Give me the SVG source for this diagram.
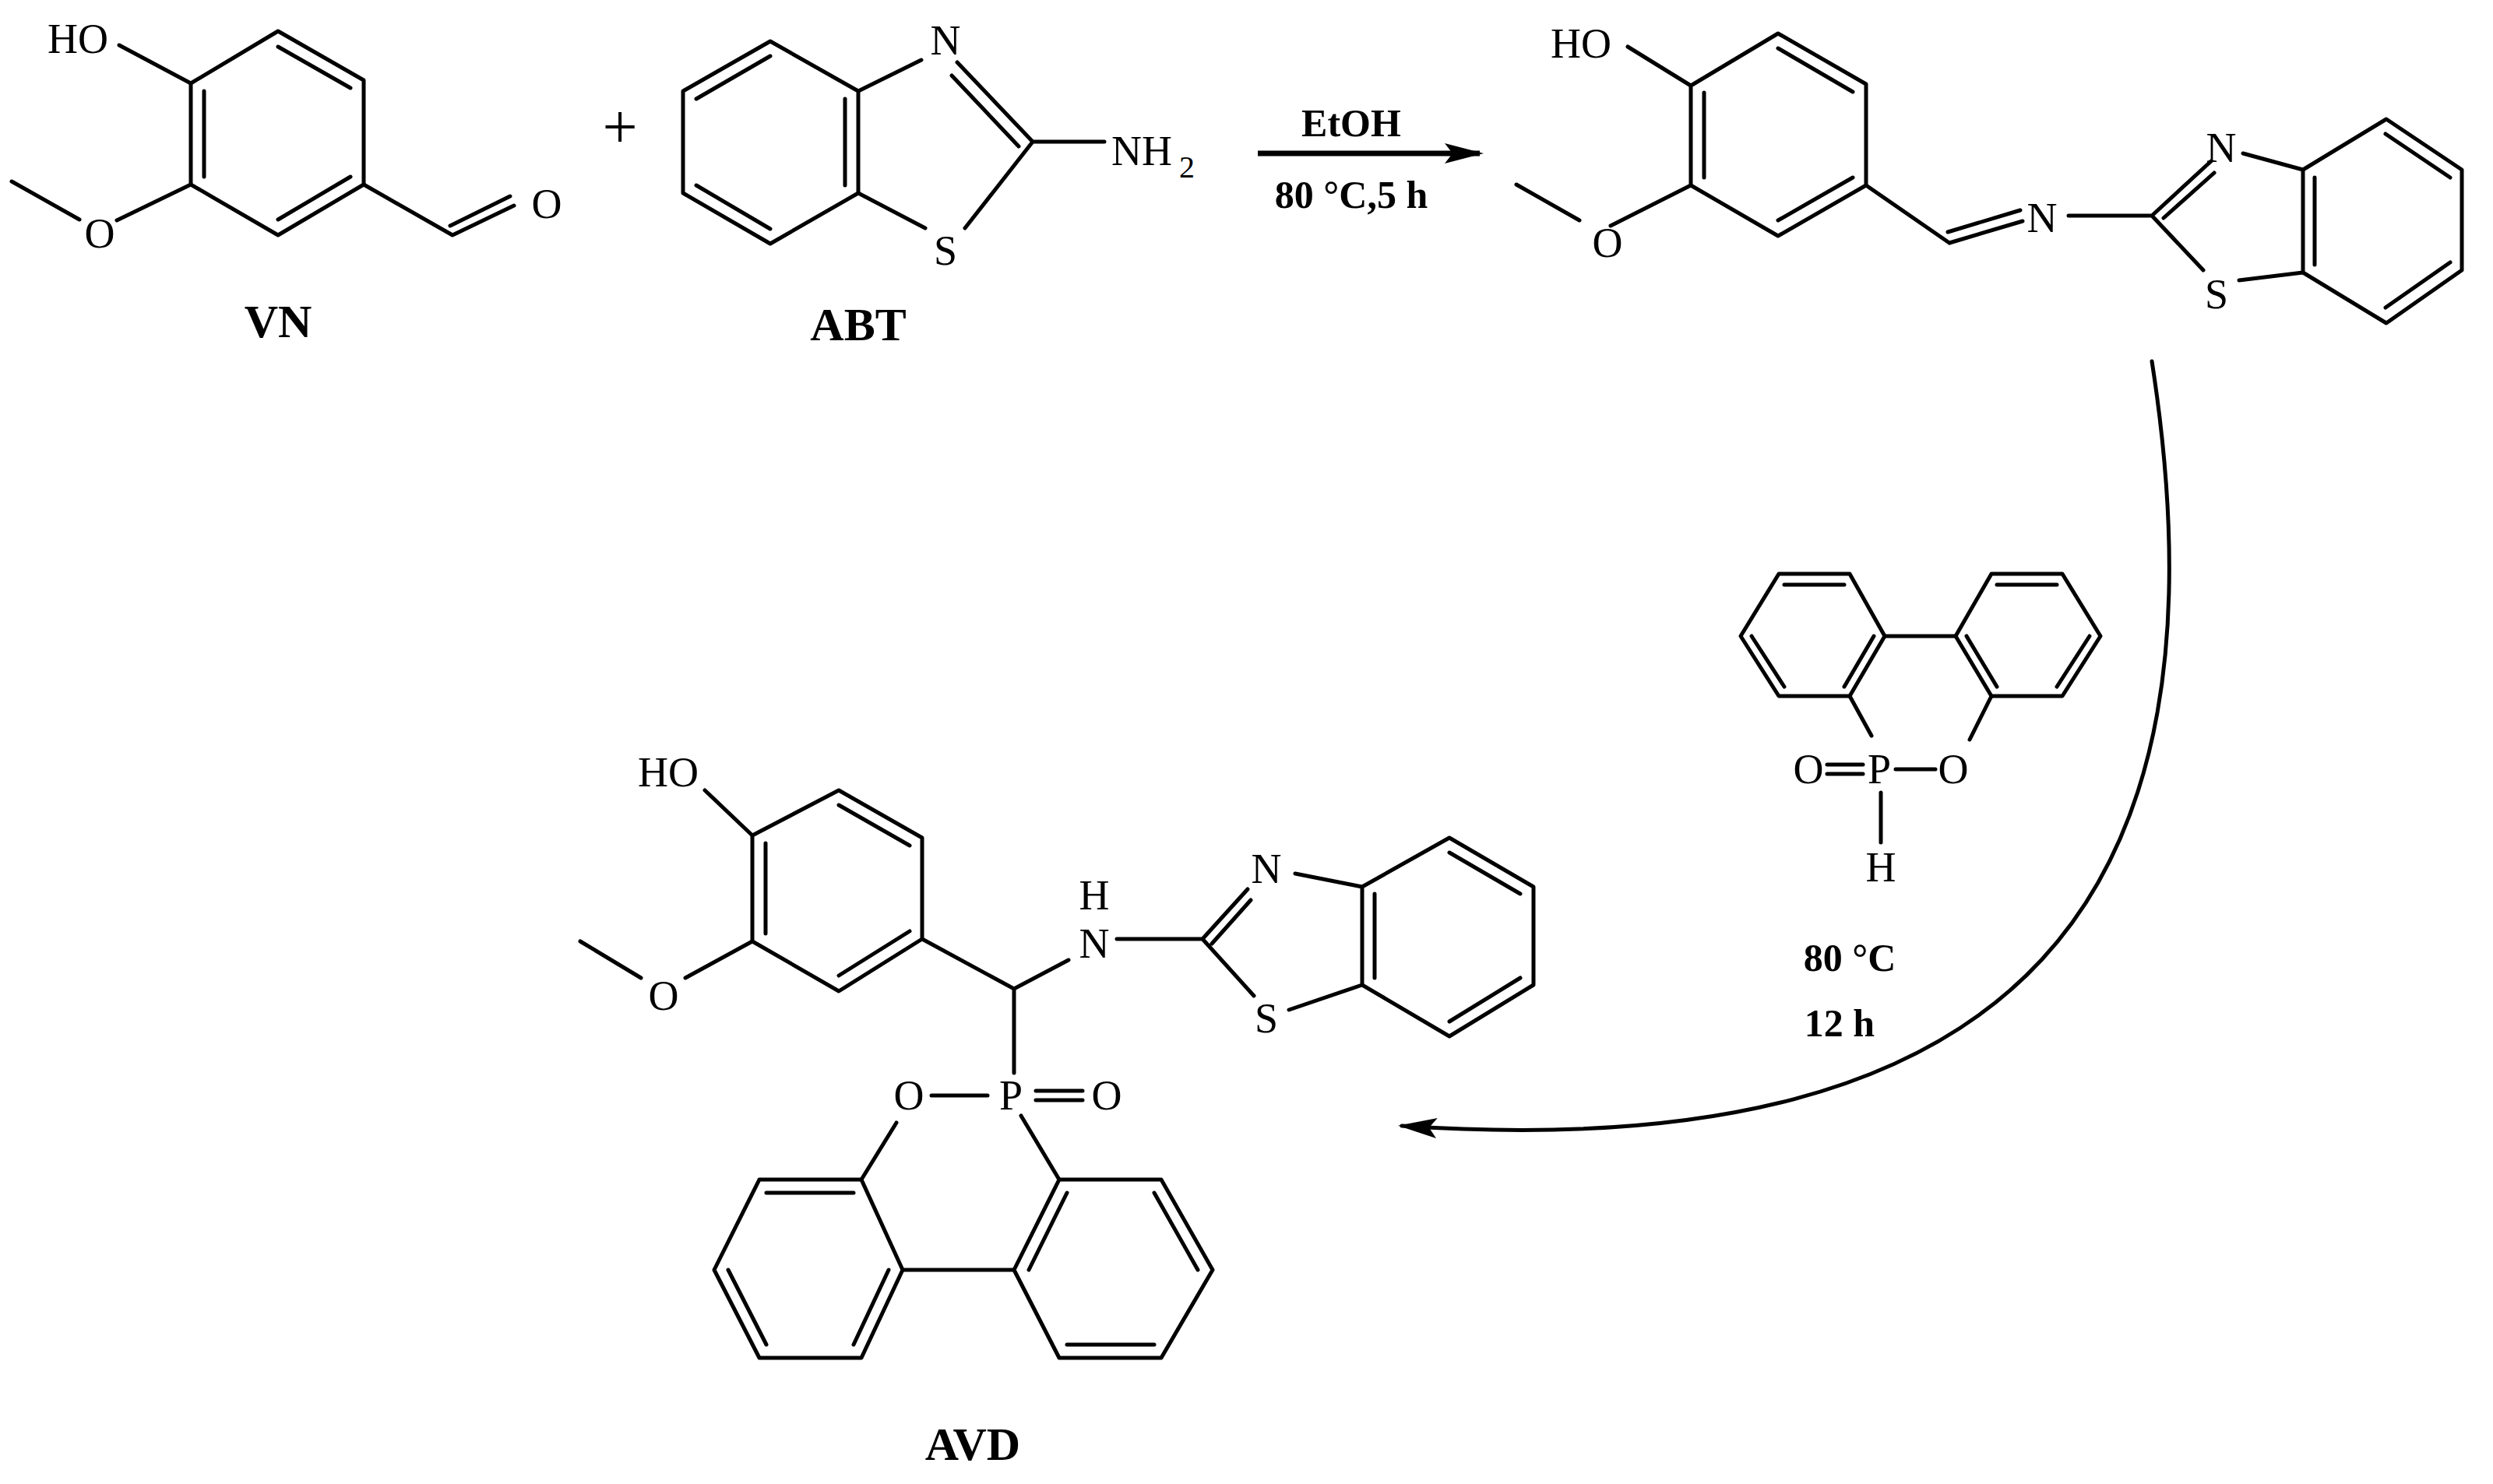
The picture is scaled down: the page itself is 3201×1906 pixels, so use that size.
<svg xmlns="http://www.w3.org/2000/svg" width="3201" height="1906" viewBox="0 0 3201 1906">
<style>
.b{stroke:#000;stroke-width:5;fill:none;stroke-linecap:round;stroke-linejoin:round}
.t{font-family:"Liberation Serif",serif;font-size:54px;text-anchor:middle;dominant-baseline:central;fill:#000}
.l{font-family:"Liberation Serif",serif;font-size:60px;font-weight:bold;text-anchor:middle;dominant-baseline:central;fill:#000}
.c{font-family:"Liberation Serif",serif;font-size:50px;font-weight:bold;text-anchor:middle;dominant-baseline:central;fill:#000}
</style>
<defs>
<marker id="ah2" markerWidth="50" markerHeight="30" refX="45" refY="15" orient="auto" markerUnits="userSpaceOnUse" viewBox="0 0 50 30">
<path d="M0,2 L50,15 L0,28 L10,15 Z" fill="#000"/>
</marker>
</defs>
<rect width="3201" height="1906" fill="#fff"/>

<g id="VN">
<path class="b" d="M357,40 L467,103 L467,237 L357,302 L245,237 L245,107 Z"/>
<path class="b" d="M262,117 L262,227 M357,60 L450,113 M450,227 L357,282"/>
<path class="b" d="M153,58 L245,107 M245,237 L150,283 M102,282 L15,233 M467,237 L581,302 M581,302 L660,264 M578,290 L655,252"/>
<text class="t" x="100" y="50">HO</text>
<text class="t" x="128" y="300">O</text>
<text class="t" x="702" y="262">O</text>
<text class="l" x="357" y="413">VN</text>
</g>

<g id="plus"><text class="t" x="796" y="163" style="font-size:80px">+</text></g>

<g id="ABT">
<path class="b" d="M989,53 L1102,117 L1102,248 L989,313 L877,248 L877,117 Z"/>
<path class="b" d="M894,127 L989,72 M894,238 L989,294 M1085,127 L1085,238"/>
<path class="b" d="M1102,117 L1183,77 M1229,80 L1326,182 M1222,97 L1308,188 M1326,182 L1418,182 M1326,182 L1239,293 M1102,248 L1188,293"/>
<text class="t" x="1214" y="52">N</text>
<text class="t" x="1214" y="322">S</text>
<text class="t" x="1466" y="194">NH</text>
<text class="t" x="1524" y="214" style="font-size:40px">2</text>
<text class="l" x="1102" y="417">ABT</text>
</g>

<g id="connectors">
<path d="M1615,197 L1900,197" stroke="#000" stroke-width="7" marker-end="url(#ah2)" fill="none"/>
<path class="b" d="M2763,464 C2870,1150 2600,1500 1800,1446" stroke-width="4" marker-end="url(#ah2)"/>
</g>
<g id="cond1">
<text class="c" x="1735" y="158">EtOH</text>
<text class="c" x="1735" y="250">80 °C,5 h</text>
</g>

<g id="imine">
<path class="b" d="M2171,110 L2283,43 L2396,108 L2396,238 L2283,303 L2171,238 Z"/>
<path class="b" d="M2188,119 L2188,228 M2283,62 L2379,118 M2379,228 L2283,283"/>
<path class="b" d="M2090,60 L2171,110 M2171,238 L2068,290 M2028,283 L1947,237 M2396,238 L2503,312 M2503,312 L2597,284 M2501,298 L2594,270 M2656,277 L2763,277 M2763,277 L2839,207 M2778,280 L2843,222 M2880,197 L2957,218 M2763,277 L2829,347 M2875,360 L2957,350"/>
<path class="b" d="M2957,218 L3064,153 L3161,218 L3161,347 L3064,415 L2957,350 Z"/>
<path class="b" d="M2972,228 L2972,340 M3063,172 L3146,228 M3146,337 L3063,395"/>
<text class="t" x="2030" y="56">HO</text>
<text class="t" x="2064" y="312">O</text>
<text class="t" x="2622" y="280">N</text>
<text class="t" x="2852" y="190">N</text>
<text class="t" x="2846" y="378">S</text>
</g>

<g id="DOPO">
<path class="b" d="M2284,737 L2375,737 L2420,817 L2375,894 L2284,894 L2235,817 Z"/>
<path class="b" d="M2291,751 L2368,751 M2249,817 L2291,882 M2406,817 L2368,882"/>
<path class="b" d="M2557,737 L2648,737 L2697,817 L2648,894 L2557,894 L2511,817 Z"/>
<path class="b" d="M2564,751 L2641,751 M2525,817 L2564,882 M2683,817 L2641,882"/>
<path class="b" d="M2420,817 L2511,817 M2375,894 L2403,945 M2557,894 L2529,950 M2434,988 L2485,988 M2346,982 L2392,982 M2346,994 L2392,994 M2415,1018 L2415,1082"/>
<text class="t" x="2322" y="988">O</text>
<text class="t" x="2413" y="988">P</text>
<text class="t" x="2508" y="988">O</text>
<text class="t" x="2415" y="1114">H</text>
<text class="c" x="2375" y="1230">80 °C</text>
<text class="c" x="2362" y="1314">12 h</text>
</g>

<g id="AVD">
<path class="b" d="M966,1073 L1077,1015 L1184,1076 L1184,1206 L1077,1273 L966,1209 Z"/>
<path class="b" d="M983,1083 L983,1199 M1077,1034 L1168,1086 M1168,1196 L1077,1253"/>
<path class="b" d="M905,1015 L966,1073 M966,1209 L880,1256 M823,1256 L745,1209 M1184,1206 L1302,1270 M1302,1270 L1372,1233 M1434,1206 L1544,1206 M1544,1206 L1602,1142 M1556,1212 L1606,1156 M1663,1122 L1749,1139 M1544,1206 L1610,1279 M1655,1297 L1749,1265 M1302,1270 L1302,1378"/>
<path class="b" d="M1749,1139 L1861,1076 L1969,1139 L1969,1265 L1861,1331 L1749,1265 Z"/>
<path class="b" d="M1765,1148 L1765,1256 M1861,1095 L1952,1148 M1952,1256 L1861,1312"/>
<path class="b" d="M1196,1407 L1268,1407 M1330,1401 L1390,1401 M1330,1413 L1390,1413 M1151,1442 L1106,1515 M1311,1433 L1360,1515 M1159,1631 L1302,1631"/>
<path class="b" d="M975,1515 L1106,1515 L1159,1631 L1106,1744 L975,1744 L917,1631 Z"/>
<path class="b" d="M984,1532 L1096,1532 M935,1631 L984,1727 M1141,1631 L1096,1727"/>
<path class="b" d="M1360,1515 L1491,1515 L1557,1631 L1491,1744 L1360,1744 L1302,1631 Z"/>
<path class="b" d="M1321,1631 L1370,1532 M1482,1532 L1538,1631 M1370,1727 L1482,1727"/>
<text class="t" x="858" y="992">HO</text>
<text class="t" x="852" y="1279">O</text>
<text class="t" x="1405" y="1150">H</text>
<text class="t" x="1405" y="1212">N</text>
<text class="t" x="1626" y="1116">N</text>
<text class="t" x="1626" y="1308">S</text>
<text class="t" x="1167" y="1407">O</text>
<text class="t" x="1298" y="1407">P</text>
<text class="t" x="1421" y="1407">O</text>
<text class="l" x="1249" y="1855">AVD</text>
</g>
</svg>
